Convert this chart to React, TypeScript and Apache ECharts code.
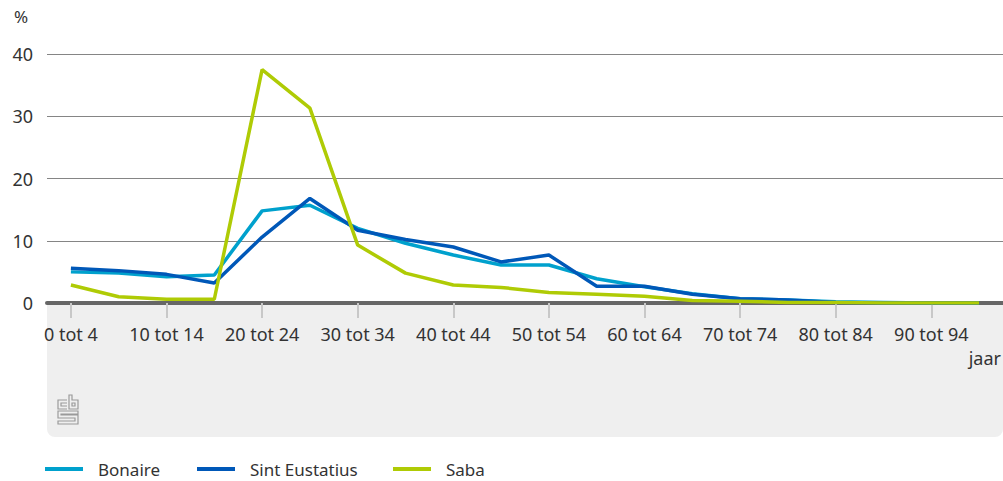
import React, { useEffect, useRef } from "react";
import * as echarts from "echarts";

const categories = [
  "0 tot 4", "5 tot 9", "10 tot 14", "15 tot 19", "20 tot 24", "25 tot 29",
  "30 tot 34", "35 tot 39", "40 tot 44", "45 tot 49", "50 tot 54", "55 tot 59",
  "60 tot 64", "65 tot 69", "70 tot 74", "75 tot 79", "80 tot 84", "85 tot 89",
  "90 tot 94", "95 tot 99",
];

const bonaire = [5.0, 4.8, 4.2, 4.5, 14.8, 15.7, 12.0, 9.6, 7.7, 6.1, 6.1, 3.9, 2.6, 1.5, 0.7, 0.5, 0.2, 0.1, 0.0, 0.0];
const sintEustatius = [5.6, 5.2, 4.6, 3.2, 10.6, 16.8, 11.7, 10.2, 9.0, 6.6, 7.7, 2.7, 2.7, 1.4, 0.7, 0.5, 0.1, 0.0, 0.0, 0.0];
const saba = [2.9, 1.0, 0.6, 0.6, 37.5, 31.3, 9.3, 4.8, 2.9, 2.5, 1.7, 1.4, 1.1, 0.4, 0.3, 0.1, 0.1, 0.0, 0.0, 0.0];

const yTicks = { min: 0, max: 40, interval: 10 };

const COLORS = { bonaire: "#00a1cd", eustatius: "#0058b8", saba: "#afcb05" };
const FONT = "Noto Sans";

const logoPath =
  "M9,5 H0 V14 H9 M9,8 H3 V11 H9 " +
  "M11,0 H14 V5 H20 V14 H11 Z M14,8 H17 V11 H14 Z " +
  "M20,16 H0 V23 H17 V26 H0 V29 H20 V20 H3 V19 H20 Z";

let registered = false;

export default function App() {
  const ref = useRef<HTMLDivElement>(null);
  useEffect(() => {
    if (!ref.current) return;
    if (!registered) {
      echarts.graphic.registerShape("logo", echarts.graphic.extendPath(logoPath, {}));
      registered = true;
    }
    const chart = echarts.init(ref.current, undefined, { renderer: "svg" });
    const legendBase = {
      top: 458,
      padding: 0,
      icon: "rect",
      itemWidth: 38,
      itemHeight: 4,
      textStyle: { fontFamily: FONT, fontSize: 17, color: "#333", padding: [0, 0, 0, 10], lineHeight: 22 },
    };
    chart.setOption({
      animation: false,
      textStyle: { fontFamily: FONT },
      grid: { left: 47, right: 0, top: 54, bottom: 178, containLabel: false },
      graphic: [
        {
          type: "rect",
          z: -10,
          silent: true,
          shape: { x: 47, y: 303, width: 956, height: 134, r: [0, 0, 8, 8] },
          style: { fill: "#efefef" },
        },
        {
          type: "text",
          left: 14,
          top: 8,
          style: { text: "%", fontFamily: FONT, fontSize: 17, fill: "#333" },
        },
        {
          type: "text",
          right: 2,
          top: 349,
          style: { text: "jaar", fontFamily: FONT, fontSize: 18, fill: "#333" },
        },
        {
          type: "logo",
          x: 58,
          y: 395,
          scaleX: 1,
          scaleY: 1,
          style: { fill: "none", stroke: "#9a9a9a", lineWidth: 1.2 },
        },
      ],
      legend: [
        { ...legendBase, left: 45, data: ["Bonaire"] },
        { ...legendBase, left: 197, data: ["Sint Eustatius"] },
        { ...legendBase, left: 393, data: ["Saba"] },
      ],
      xAxis: {
        type: "category",
        data: categories,
        boundaryGap: true,
        axisLine: { show: true, lineStyle: { color: "#666", width: 4 } },
        axisTick: {
          show: true,
          alignWithLabel: true,
          length: 15,
          interval: (i: number) => i % 2 === 0,
          lineStyle: { color: "#c8c8c8", width: 2 },
        },
        axisLabel: {
          interval: (i: number) => i % 2 === 0,
          margin: 22,
          fontFamily: FONT,
          fontSize: 18,
          color: "#333",
        },
        splitLine: { show: false },
      },
      yAxis: {
        type: "value",
        min: yTicks.min,
        max: yTicks.max,
        interval: yTicks.interval,
        axisLine: { show: false },
        axisTick: { show: false },
        axisLabel: { margin: 14, fontFamily: FONT, fontSize: 18, color: "#333" },
        splitLine: { lineStyle: { color: "#858585", width: 1 } },
      },
      series: [
        {
          name: "Bonaire",
          type: "line",
          data: bonaire,
          symbol: "none",
          itemStyle: { color: COLORS.bonaire },
          lineStyle: { color: COLORS.bonaire, width: 3.5 },
        },
        {
          name: "Sint Eustatius",
          type: "line",
          data: sintEustatius,
          symbol: "none",
          itemStyle: { color: COLORS.eustatius },
          lineStyle: { color: COLORS.eustatius, width: 3.5 },
        },
        {
          name: "Saba",
          type: "line",
          data: saba,
          symbol: "none",
          itemStyle: { color: COLORS.saba },
          lineStyle: { color: COLORS.saba, width: 3.5 },
        },
      ],
    });
    return () => chart.dispose();
  }, []);
  return (
    <div
      ref={ref}
      style={{ position: "fixed", left: 0, top: 0, width: 1003, height: 481, background: "#fff" }}
    />
  );
}
